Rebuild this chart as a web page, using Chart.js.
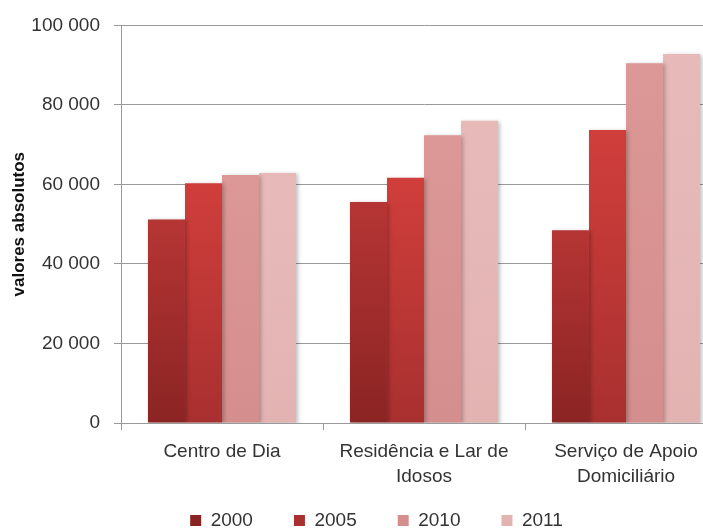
<!DOCTYPE html>
<html>
<head>
<meta charset="utf-8">
<script src="https://cdn.jsdelivr.net/npm/chart.js@4/dist/chart.umd.min.js"></script>
<style>
  html, body { margin: 0; padding: 0; background: #fff; overflow: hidden; }
  #wrap { width: 703px; height: 532px; overflow: hidden; }
</style>
</head>
<body>
<div id="wrap"><canvas id="myChart" width="730" height="532"></canvas></div>
<script>
// categorias e valores por ano
var categorias = [
  "Centro de Dia",
  ["Residência e Lar de", "Idosos"],
  ["Serviço de Apoio", "Domiciliário"],
];
var anos = ["2000", "2005", "2010", "2011"];
var valores2000 = [51200, 55600, 48500];
var valores2005 = [60300, 61700, 73700];
var valores2010 = [62400, 72400, 90500];
var valores2011 = [62900, 76000, 92800];
var ticksY = [0, 20000, 40000, 60000, 80000, 100000];

// cores: topo e base do gradiente de cada série
var cores = [
  ["#b53534", "#8a2423"],
  ["#d03e3b", "#a8302f"],
  ["#db9897", "#d48e8d"],
  ["#e7bab9", "#e3b3b2"],
];

function gradiente(i) {
  return function (context) {
    var chart = context.chart;
    if (!chart.chartArea || context.type !== "data") return cores[i][0];
    var y = chart.scales.y;
    var topo = y.getPixelForValue(context.parsed.y);
    var base = y.getPixelForValue(0);
    var g = chart.ctx.createLinearGradient(0, topo, 0, base);
    g.addColorStop(0, cores[i][0]);
    g.addColorStop(1, cores[i][1]);
    return g;
  };
}

function formatar(v) {
  return String(v).replace(/\B(?=(\d{3})+(?!\d))/g, " ");
}

// sombra leve nas barras
var sombra = {
  id: "sombra",
  beforeDatasetsDraw: function (chart) {
    var ctx = chart.ctx;
    ctx.save();
    ctx.shadowColor = "rgba(0,0,0,0.25)";
    ctx.shadowBlur = 4;
    ctx.shadowOffsetX = 2;
    ctx.shadowOffsetY = 1;
  },
  afterDatasetsDraw: function (chart) {
    chart.ctx.restore();
  },
};

// posiciona a legenda por baixo dos rótulos do eixo x
var legendaDesloc = {
  id: "legendaDesloc",
  afterLayout: function (chart) {
    var lg = chart.legend;
    lg.left += 13;
    lg.right += 13;
    lg.top = 470;
    lg.bottom = 532;
  },
};

Chart.defaults.font.family = "'Liberation Sans', Arial, sans-serif";
Chart.defaults.color = "#333";

var series = [valores2000, valores2005, valores2010, valores2011];

var ctx = document.getElementById("myChart").getContext("2d");
var myChart = new Chart(ctx, {
  type: "bar",
  data: {
    labels: categorias,
    datasets: series.map(function (dados, i) {
      return {
        label: anos[i],
        data: dados,
        backgroundColor: gradiente(i),
        borderWidth: 0,
        categoryPercentage: 0.733,
        barPercentage: 1,
      };
    }),
  },
  plugins: [sombra, legendaDesloc],
  options: {
    responsive: false,
    animation: false,
    layout: { padding: { top: 23, right: 3, bottom: 0, left: 0 } },
    scales: {
      x: {
        grid: {
          drawOnChartArea: false,
          tickLength: 7,
          color: "#9a9a9a",
        },
        border: { color: "#9a9a9a" },
        ticks: {
          font: { size: 19, lineHeight: 1.32 },
          padding: 9,
          maxRotation: 0,
          autoSkip: false,
        },
        afterFit: function (scale) {
          scale.height = 80;
        },
      },
      y: {
        min: 0,
        max: 100000,
        afterBuildTicks: function (scale) {
          scale.ticks = ticksY.map(function (v) { return { value: v }; });
        },
        grid: { color: "#9a9a9a", tickLength: 7 },
        border: { color: "#9a9a9a" },
        ticks: {
          font: { size: 19 },
          padding: 14,
          callback: function (v) { return formatar(v); },
        },
        title: {
          display: true,
          text: "valores absolutos",
          font: { size: 17, weight: "bold" },
          color: "#111",
          padding: { top: 9, bottom: 0 },
        },
        afterFit: function (scale) {
          scale.width = 121;
        },
      },
    },
    plugins: {
      legend: {
        display: true,
        position: "bottom",
        maxHeight: 29,
        labels: {
          boxWidth: 11,
          boxHeight: 11,
          padding: 41,
          font: { size: 19 },
        },
      },
      tooltip: { enabled: false },
    },
  },
});
</script>
</body>
</html>
